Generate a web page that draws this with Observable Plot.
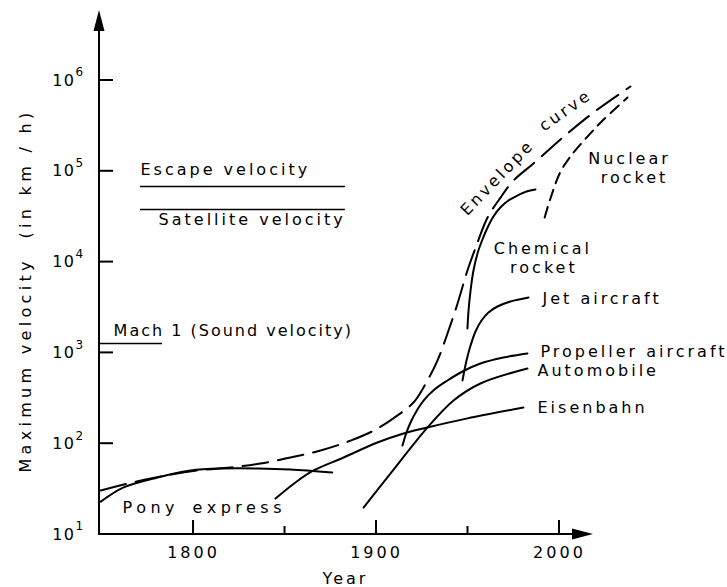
<!DOCTYPE html>
<html><head><meta charset="utf-8">
<script src="https://cdn.jsdelivr.net/npm/d3@7"></script>
<script src="https://cdn.jsdelivr.net/npm/@observablehq/plot@0.6"></script>
<style>body{margin:0;background:#fff} #chart svg{font-family:"DejaVu Sans",sans-serif}</style>
</head><body><div id="chart"></div>
<script>
// ---- data ----
const ponyYears = [1749.3, 1761.8, 1780.4, 1798.4, 1816.4, 1834.9, 1852.9, 1875.8];
const ponyValues = [23, 33, 42.5, 50.7, 53.4, 53.4, 52, 48.2];

const envelopeYears = [1749.3, 1773.8, 1802.2, 1820.2, 1836.6, 1853, 1869.4, 1885.8, 1899.5, 1911.5, 1920.2, 1925.7, 1933.3, 1938.8, 1944.3, 1949.7, 1955.2, 1960.7, 1967.8, 1974.9, 1985.8, 2004.4, 2018.6, 2038.8];
const envelopeValues = [30.5, 40.4, 50.7, 54.7, 60.5, 70.5, 84.2, 108, 143, 205, 284, 416, 824, 1637, 3500, 8070, 16400, 31000, 51400, 79200, 122000, 261000, 444000, 859000];

const railYears = [1844.8, 1855.7, 1865.6, 1882, 1900.5, 1914.8, 1927.9, 1949.7, 1980.3];
const railValues = [24.9, 37.4, 50.7, 70.5, 103, 129.5, 151, 190, 250];

const autoYears = [1892.9, 1907.7, 1927.9, 1942.1, 1956.8, 1982.5];
const autoValues = [19.8, 47, 151, 299, 460, 673];

const propYears = [1914.2, 1916.4, 1919.1, 1922.4, 1925.7, 1931.7, 1938.8, 1947.0, 1956.8, 1969.4, 1982.5];
const propValues = [95.5, 133, 180, 238, 299, 395, 497, 624, 764, 890, 985];

const jetYears = [1947.0, 1949.2, 1951.4, 1954.1, 1957.4, 1961.2, 1966.1, 1973.2, 1983.1];
const jetValues = [497, 824, 1205, 1722, 2275, 2786, 3243, 3681, 4074];

const chemYears = [1949.7, 1950.3, 1951.4, 1953.0, 1955.2, 1957.9, 1960.7, 1963.9, 1967.8, 1972.1, 1977.0, 1982.0, 1986.9];
const chemValues = [1858, 2930, 4860, 8070, 12440, 17740, 24040, 31780, 40130, 47640, 54080, 59950, 63100];

const nuclearYears = [1991.9, 1994.7, 2000.1, 2005.6, 2014.8, 2023.6, 2037.2];
const nuclearValues = [31000, 47600, 94600, 142000, 235000, 362000, 650000];

// reference speeds: name, value, from year, to year
const refNames = ["Escape velocity", "Satellite velocity", "Mach 1"];
const refValues = [68000, 37900, 1270];
const refFrom = [1771, 1771, 1748.6];
const refTo = [1883, 1883, 1783];

// tick labels
const yTickValues = [1e1, 1e2, 1e3, 1e4, 1e5, 1e6];
const yTickBase = ["10", "10", "10", "10", "10", "10"];
const yTickExp = ["1", "2", "3", "4", "5", "6"];
const majorYears = [1800, 1900, 2000];
const minorYears = [1850, 1950];

// annotations (text, year, value)
const labelTexts = ["Escape velocity", "Satellite velocity", "Eisenbahn", "Automobile", "Propeller aircraft", "Jet aircraft"];
const labelYears = [1771, 1780.9, 1988, 1988, 1989.6, 1990.7];
const labelValues = [104000, 29400, 250, 640, 1035, 3970];

const machText = ["Mach 1 (Sound velocity)"];
const machYear = [1756.3];
const machValue = [1770];

const ponyText = ["Pony express"];
const ponyYear = [1761.2];
const ponyValue = [19.8];

const centerTexts = ["Chemical", "rocket", "Nuclear", "rocket"];
const centerYears = [1990.9, 1991.5, 2038.3, 2041.0];
const centerValues = [14100, 8710, 138000, 85500];

const envTexts = ["Envelope", "curve"];
const envYears = [1966.1, 2003.3];
const envValues = [85000, 468000];
const envAngles = [-46, -35];

// ---- build tables ----
const zip = (xs, ys) => xs.map((x, i) => ({year: x, v: ys[i]}));
const refs = refNames.map((n, i) => ({name: n, v: refValues[i], x1: refFrom[i], x2: refTo[i]}));
const labels = labelTexts.map((t, i) => ({t, year: labelYears[i], v: labelValues[i]}));
const machLabel = machText.map((t, i) => ({t, year: machYear[i], v: machValue[i]}));
const ponyLabel = ponyText.map((t, i) => ({t, year: ponyYear[i], v: ponyValue[i]}));
const centers = centerTexts.map((t, i) => ({t, year: centerYears[i], v: centerValues[i]}));
const envLabels = envTexts.map((t, i) => ({t, year: envYears[i], v: envValues[i], a: envAngles[i]}));
const yTicks = yTickValues.map((v, i) => ({v, base: yTickBase[i], exp: yTickExp[i]}));

const W = 727, H = 587;
const fontStyle = {fontFamily: "DejaVu Sans", fontSize: 16, fill: "black"};
const spacing = (ls, ws) => (index, scales, values, dims, context, next) => {
  const g = next(index, scales, values, dims, context);
  g.style.letterSpacing = ls;
  if (ws) g.style.wordSpacing = ws;
  return g;
};

function axesMark(index, scales, values, dim) {
  const {x, y} = scales;
  const {width, height, marginLeft, marginTop, marginBottom, marginRight} = dim;
  const x0 = marginLeft, y0 = height - marginBottom, xr = width - marginRight, yt = marginTop;
  const g = d3.create("svg:g").attr("stroke", "black").attr("stroke-width", 2).attr("fill", "none");
  g.append("path").attr("d", `M${x0},${yt + 18}V${y0}H${xr - 18}`);
  g.append("path").attr("stroke", "none").attr("fill", "black")
    .attr("d", `M${x0},${yt}L${x0 - 5.5},${yt + 21}L${x0 + 5.5},${yt + 21}Z`);
  g.append("path").attr("stroke", "none").attr("fill", "black")
    .attr("d", `M${xr},${y0}L${xr - 21},${y0 - 5.5}L${xr - 21},${y0 + 5.5}Z`);
  for (const t of yTickValues.slice(1)) {
    g.append("line").attr("x1", x0).attr("x2", x0 + 14).attr("y1", y(t)).attr("y2", y(t));
  }
  for (const t of majorYears) {
    g.append("line").attr("x1", x(t)).attr("x2", x(t)).attr("y1", y0).attr("y2", y0 - 14);
  }
  for (const t of minorYears) {
    g.append("line").attr("x1", x(t)).attr("x2", x(t)).attr("y1", y0).attr("y2", y0 - 8);
  }
  return g.node();
}

const solid = {x: "year", y: "v", curve: "catmull-rom", stroke: "black", strokeWidth: 2};

const plot = Plot.plot({
  width: W, height: H,
  marginLeft: 99, marginRight: 134, marginTop: 10, marginBottom: 53,
  style: {fontFamily: "DejaVu Sans", fontSize: "16px", letterSpacing: "3px", background: "white", color: "black"},
  x: {domain: [1748.6, 2018.6]},
  y: {type: "log", domain: [10, Math.pow(10, 6.771)], axis: null},
  marks: [
    Plot.text(yTicks, {y: "v", text: "base", frameAnchor: "left", textAnchor: "end", dx: -24, ...fontStyle, render: spacing("1.5px")}),
    Plot.text(yTicks, {y: "v", text: "exp", frameAnchor: "left", textAnchor: "start", dx: -24, dy: -8, fontFamily: "DejaVu Sans", fontSize: 12, fill: "black"}),
    Plot.axisX({ticks: majorYears, tickSize: 0, tickPadding: 12, tickFormat: d => String(d), label: null, fontSize: 16}),
    axesMark,
    Plot.text(["Maximum velocity  (in km / h)"], {frameAnchor: "left", textAnchor: "middle", rotate: -90, dx: -74, dy: 18, ...fontStyle, render: spacing("4.3px")}),
    Plot.text(["Year"], {frameAnchor: "bottom", dy: 49, dx: -1, ...fontStyle}),
    Plot.ruleY(refs, {y: "v", x1: "x1", x2: "x2", stroke: "black", strokeWidth: 1.5}),
    Plot.line(zip(ponyYears, ponyValues), solid),
    Plot.line(zip(railYears, railValues), solid),
    Plot.line(zip(autoYears, autoValues), solid),
    Plot.line(zip(propYears, propValues), solid),
    Plot.line(zip(jetYears, jetValues), solid),
    Plot.line(zip(chemYears, chemValues), solid),
    Plot.line(zip(envelopeYears, envelopeValues), {...solid, strokeDasharray: "26,10"}),
    Plot.line(zip(nuclearYears, nuclearValues), {...solid, strokeDasharray: "11,7"}),
    Plot.text(labels, {x: "year", y: "v", text: "t", textAnchor: "start", ...fontStyle}),
    Plot.text(machLabel, {x: "year", y: "v", text: "t", textAnchor: "start", ...fontStyle, render: spacing("2px")}),
    Plot.text(ponyLabel, {x: "year", y: "v", text: "t", textAnchor: "start", ...fontStyle, render: spacing("4.5px", "4px")}),
    Plot.text(centers, {x: "year", y: "v", text: "t", textAnchor: "middle", ...fontStyle}),
    Plot.text(envLabels, {x: "year", y: "v", text: "t", rotate: "a", textAnchor: "middle", ...fontStyle})
  ]
});
document.getElementById("chart").appendChild(plot);
</script></body></html>
